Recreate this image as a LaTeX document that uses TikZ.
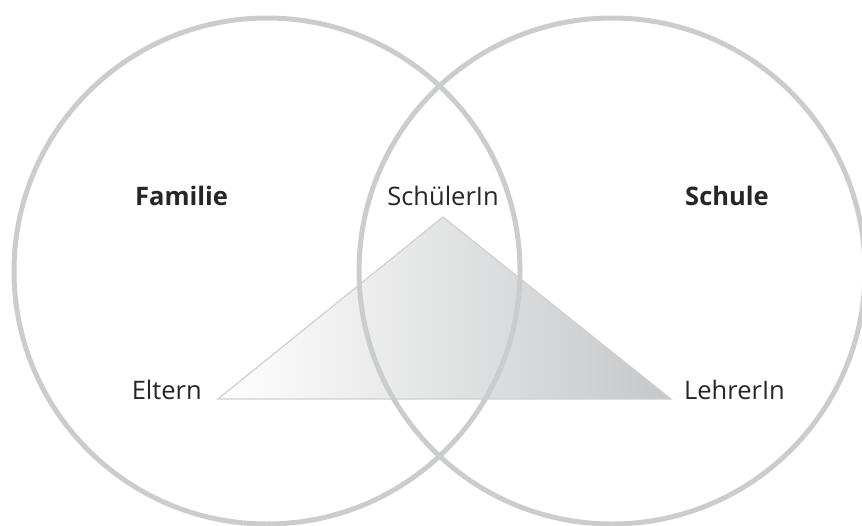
\documentclass[tikz,border=0pt]{standalone}
\usepackage{fontspec}
\setmainfont{Open Sans}
\begin{document}
\begin{tikzpicture}[x=1pt,y=-1pt,
  ring/.style={draw=ringgray,line width=5pt},
  lbl/.style={inner sep=0pt,font=\fontsize{25.5}{28}\selectfont,text=black!85},
  hd/.style={lbl,font=\fontsize{25.5}{28}\selectfont\bfseries}]
\definecolor{ringgray}{HTML}{CBCCCE}
\definecolor{trigray}{HTML}{C6C7C9}
\definecolor{triedge}{HTML}{CFD0D2}
\useasboundingbox (0,0) rectangle (862,525);
\coordinate (apex) at (443,217);
\coordinate (left) at (218,399);
\coordinate (right) at (671,399);
\shade[left color=white,right color=trigray] (apex) -- (left) -- (right) -- cycle;
\draw[triedge,line width=1.2pt,line join=miter] (apex) -- (left) -- (right) -- cycle;
\node[ring,circle,minimum size=506pt,inner sep=0pt] (fam) at (267,271) {};
\node[ring,circle,minimum size=506pt,inner sep=0pt] (sch) at (612,271) {};
\node[hd,anchor=base west] (familie) at (135,205) {Familie};
\node[hd,anchor=base west] (schule) at (685,205) {Schule};
\node[lbl,anchor=base] (schueler) at (443,205) {SchülerIn};
\node[lbl,anchor=base east] (eltern) at (202,399) {Eltern};
\node[lbl,anchor=base west] (lehrer) at (684,399) {LehrerIn};
\end{tikzpicture}
\end{document}
